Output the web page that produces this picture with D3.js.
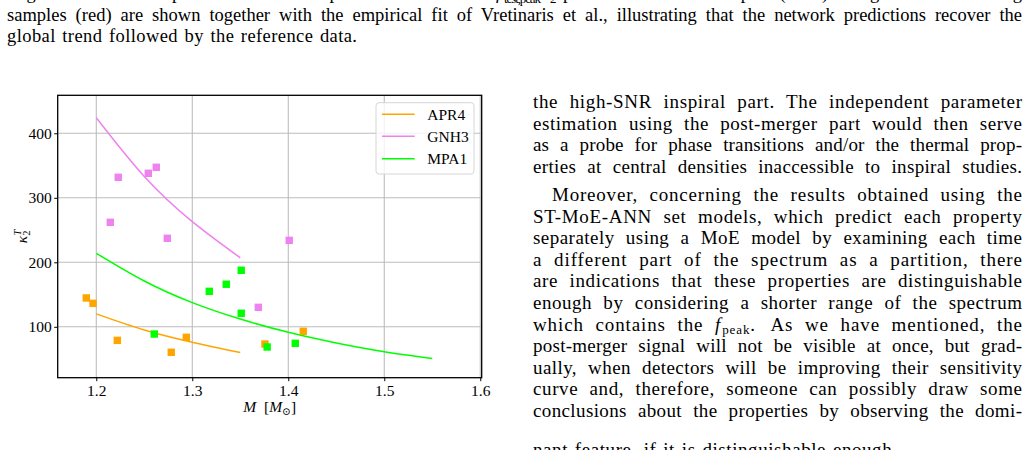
<!DOCTYPE html>
<html><head><meta charset="utf-8">
<script src="https://cdn.jsdelivr.net/npm/d3@7"></script>
<style>
html,body{margin:0;padding:0;background:#fff;}
svg{display:block;}
text{font-family:"Liberation Serif","DejaVu Serif",serif;fill:#000;}
</style></head><body>
<svg id="page" width="1029" height="450"></svg>
<script>
// ---------- data ----------
const eosNames = ["APR4", "GNH3", "MPA1"];
const eosColors = ["#FFA500", "#EE82EE", "#00FF00"];

const apr4Mass  = [1.1896, 1.1966, 1.2219, 1.2781, 1.2938, 1.3757, 1.4156];
const apr4Kappa = [144.7, 136.4, 79, 60.5, 83.7, 73.3, 93];
const gnh3Mass  = [1.2146, 1.2229, 1.2542, 1.2625, 1.2740, 1.3688, 1.4010];
const gnh3Kappa = [262, 331.8, 338, 347.3, 237.2, 130.2, 234];
const mpa1Mass  = [1.2604, 1.3177, 1.3354, 1.3510, 1.3510, 1.3780, 1.4073];
const mpa1Kappa = [88.8, 155, 166, 187.6, 121, 68.7, 74.4];

// empirical fit curves at sample masses
const apr4FitMass  = [1.20, 1.25, 1.30, 1.35];
const apr4FitKappa = [120, 95, 76, 60];
const gnh3FitMass  = [1.20, 1.25, 1.30, 1.35];
const gnh3FitKappa = [424, 333, 263, 207];
const mpa1FitMass  = [1.20, 1.25, 1.30, 1.35, 1.40, 1.45, 1.50, 1.55];
const mpa1FitKappa = [214, 171, 137.5, 112, 91.5, 75, 61.5, 51];

const xTicks = [1.2, 1.3, 1.4, 1.5, 1.6];
const yTicks = [100, 200, 300, 400];

// ---------- page text ----------
const captionLine2 = "samples (red) are shown together with the empirical fit of Vretinaris et al., illustrating that the network predictions recover the";
const captionLine3 = "global trend followed by the reference data.";
const bodyLines = [
  "the high-SNR inspiral part. The independent parameter",
  "estimation using the post-merger part would then serve",
  "as a probe for phase transitions and/or the thermal prop-",
  "erties at central densities inaccessible to inspiral studies.",
  "Moreover, concerning the results obtained using the",
  "ST-MoE-ANN set models, which predict each property",
  "separately using a MoE model by examining each time",
  "a different part of the spectrum as a partition, there",
  "are indications that these properties are distinguishable",
  "enough by considering a shorter range of the spectrum",
  null,
  "post-merger signal will not be visible at once, but grad-",
  "ually, when detectors will be improving their sensitivity",
  "curve and, therefore, someone can possibly draw some",
  "conclusions about the properties by observing the domi-"
];
const lastBodyLine = "nant feature, if it is distinguishable enough.";

const svg = d3.select("#page");

// justify a text element to a target width: word spacing first, then letter spacing
function justify(sel, target, maxWs) {
  const node = sel.node();
  const natural = node.getComputedTextLength();
  const str = node.textContent.replace(/\s+/g, " ");
  const nSp = (str.match(/ /g) || []).length;
  let extra = target - natural;
  if (extra <= 0) { sel.attr("textLength", target).attr("lengthAdjust", "spacingAndGlyphs"); return; }
  let ws = nSp ? Math.min(extra / nSp, maxWs) : 0;
  const rest = extra - ws * nSp;
  const ls = rest / Math.max(1, str.length - 1);
  sel.attr("word-spacing", ws).attr("letter-spacing", ls);
}

// ---------- caption (top) ----------
const cap = svg.append("g").attr("font-size", 18.5).attr("font-family", "Liberation Serif, serif");
cap.append("text").attr("x", 7).attr("y", -1).attr("textLength", 486).attr("lengthAdjust", "spacing")
  .text("Figure 8: Scatter plot of the ANN predictions in the");
cap.append("text").attr("x", 496).attr("y", -1).attr("font-style", "italic").text("f");
cap.append("text").attr("x", 504).attr("y", 3).attr("font-size", 13).attr("textLength", 37).attr("lengthAdjust", "spacing").text("test,peak");
cap.append("text").attr("x", 541).attr("y", -1).attr("font-style", "italic").text("κ");
cap.append("text").attr("x", 550).attr("y", 3).attr("font-size", 13).text("2");
cap.append("text").attr("x", 563).attr("y", -1).attr("textLength", 459).attr("lengthAdjust", "spacing")
  .text("plane for the test samples (blue) along with the training");
justify(cap.append("text").attr("x", 7).attr("y", 21).text(captionLine2), 1015, 6);
justify(cap.append("text").attr("x", 7).attr("y", 42).text(captionLine3), 350, 1.5);

// ---------- body column ----------
const body = svg.append("g").attr("font-size", 19).attr("font-family", "Liberation Serif, serif");
const colL = 533, colR = 1022;
const lineY = i => (i < 4 ? 108 + i * 21.6 : 201 + (i - 4) * 21.6);
bodyLines.forEach((t, i) => {
  if (t === null) return;
  const x0 = i === 4 ? colL + 19 : colL;
  justify(body.append("text").attr("x", x0).attr("y", lineY(i)).text(t), colR - x0, 6);
});
// line with f_peak
{
  const t = body.append("text").attr("x", colL).attr("y", lineY(10));
  t.append("tspan").text("which contains the ");
  t.append("tspan").attr("font-style", "italic").text("f");
  t.append("tspan").attr("font-size", 13).attr("dy", 3.5).attr("dx", 1).text("peak");
  t.append("tspan").attr("dy", -3.5).text(".");
  t.append("tspan").attr("dx", 4).text(" As we have mentioned, the");
  justify(t, colR - colL - 5, 6);
}
justify(body.append("text").attr("x", colL).attr("y", lineY(15) + 17).text(lastBodyLine), 364, 1.5);

// ---------- chart ----------
const L = 57.7, R = 481.7, T = 95.3, B = 377.7;
const x = d3.scaleLinear().domain([1.1598, 1.6015]).range([L, R]);
const y = d3.scaleLinear().domain([21.1, 458.9]).range([B, T]);

const chart = svg.append("g");
// grid
chart.append("g").selectAll("line").data(xTicks).join("line")
  .attr("x1", d => x(d)).attr("x2", d => x(d)).attr("y1", T).attr("y2", B)
  .attr("stroke", "#bdbdbd").attr("stroke-width", 1.1);
chart.append("g").selectAll("line").data(yTicks).join("line")
  .attr("x1", L).attr("x2", R).attr("y1", d => y(d)).attr("y2", d => y(d))
  .attr("stroke", "#bdbdbd").attr("stroke-width", 1.1);

// fit lines
const fits = [
  [apr4FitMass, apr4FitKappa],
  [gnh3FitMass, gnh3FitKappa],
  [mpa1FitMass, mpa1FitKappa]
];
const lineGen = d3.line().x(d => x(d[0])).y(d => y(d[1])).curve(d3.curveNatural);
fits.forEach((f, i) => {
  const pts = f[0].map((m, k) => [m, f[1][k]]);
  chart.append("path").attr("d", lineGen(pts)).attr("fill", "none")
    .attr("stroke", eosColors[i]).attr("stroke-width", 1.5);
});

// scatter squares
const scat = [[apr4Mass, apr4Kappa], [gnh3Mass, gnh3Kappa], [mpa1Mass, mpa1Kappa]];
const sq = 7.4;
scat.forEach((s, i) => {
  const pts = s[0].map((m, k) => [m, s[1][k]]);
  chart.append("g").selectAll("rect").data(pts).join("rect")
    .attr("x", d => x(d[0]) - sq / 2).attr("y", d => y(d[1]) - sq / 2)
    .attr("width", sq).attr("height", sq).attr("fill", eosColors[i]);
});

// axes
const xAxis = chart.append("g").attr("transform", `translate(0,${B})`)
  .call(d3.axisBottom(x).tickValues(xTicks).tickSize(3.5).tickPadding(3.5).tickFormat(d3.format(".1f")));
const yAxis = chart.append("g").attr("transform", `translate(${L},0)`)
  .call(d3.axisLeft(y).tickValues(yTicks).tickSize(3.5).tickPadding(2.5).tickFormat(d3.format("d")));
[xAxis, yAxis].forEach(a => {
  a.attr("font-family", "Liberation Serif, serif");
  a.select(".domain").remove();
  a.selectAll(".tick line").attr("stroke", "#000").attr("stroke-width", 1);
  a.selectAll(".tick text").attr("font-size", 15.5).attr("fill", "#333");
});

// frame
chart.append("rect").attr("x", L).attr("y", T).attr("width", R - L).attr("height", B - T)
  .attr("fill", "none").attr("stroke", "#000").attr("stroke-width", 1.3);

// axis labels
const xl = chart.append("text").attr("x", (L + R) / 2).attr("y", 412).attr("text-anchor", "middle")
  .attr("font-size", 15.5).attr("fill", "#333");
xl.append("tspan").attr("font-style", "italic").text("M");
xl.append("tspan").text("\u2002[");
xl.append("tspan").attr("font-style", "italic").text("M");
xl.append("tspan").attr("font-size", 10.5).attr("dy", 3).text("\u2299");
xl.append("tspan").attr("dy", -3).text("]");

const yl = chart.append("text").attr("transform", `translate(27,${(T + B) / 2}) rotate(-90)`)
  .attr("text-anchor", "middle").attr("font-size", 15.5).attr("fill", "#333");
yl.append("tspan").attr("font-style", "italic").text("κ");
yl.append("tspan").attr("font-size", 10.5).attr("dy", 3).text("2");
yl.append("tspan").attr("font-size", 10.5).attr("font-style", "italic").attr("dx", -5).attr("dy", -9).text("T");

// legend
const lg = chart.append("g");
lg.append("rect").attr("x", 376).attr("y", 102.7).attr("width", 98).attr("height", 71.3).attr("rx", 3)
  .attr("fill", "#fff").attr("fill-opacity", 0.8).attr("stroke", "#d6d6d6").attr("stroke-width", 1);
const rowY = [114.3, 136.3, 158.7];
eosNames.forEach((n, i) => {
  lg.append("line").attr("x1", 382).attr("x2", 414.7).attr("y1", rowY[i]).attr("y2", rowY[i])
    .attr("stroke", eosColors[i]).attr("stroke-width", 1.5);
  lg.append("text").attr("x", 427.3).attr("y", rowY[i] + 5.5).attr("font-size", 15.5).attr("fill", "#333").text(n);
});
</script>
</body></html>
